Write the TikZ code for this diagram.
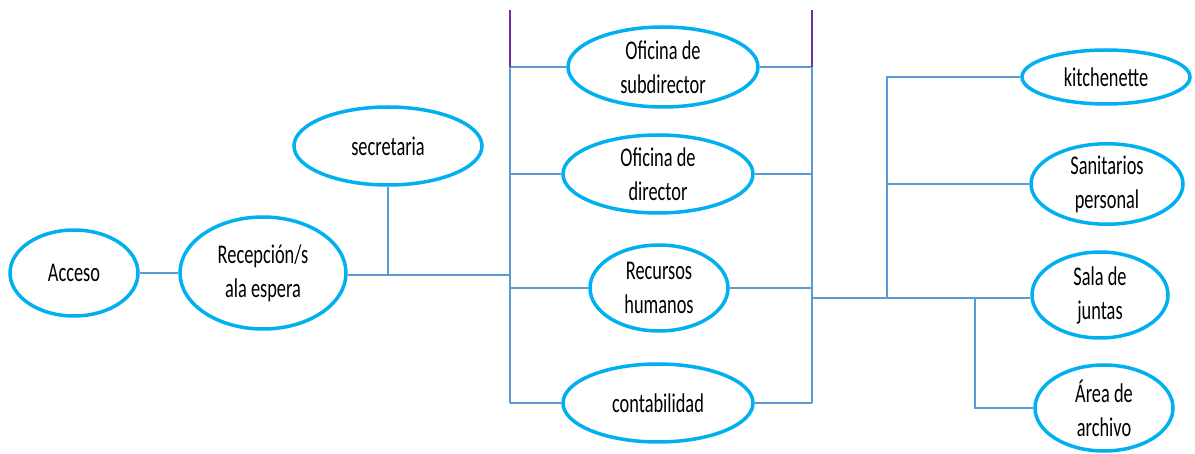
\documentclass[tikz,border=0pt]{standalone}
\usepackage{fontspec}
\setmainfont[FakeStretch=0.68]{Carlito}
\usetikzlibrary{shapes.geometric,backgrounds}
\definecolor{linkblue}{RGB}{91,155,213}
\definecolor{ovalblue}{RGB}{0,176,240}
\definecolor{topviolet}{RGB}{112,48,160}
\tikzset{
  room/.style={ellipse, draw=ovalblue, line width=3.5pt, fill=white, inner sep=0pt,
    align=center, font=\fontsize{27}{34}\selectfont, text=black},
  link/.style={draw=linkblue, line width=1.8pt},
  toplink/.style={draw=topviolet, line width=1.5pt}
}
\begin{document}
\begin{tikzpicture}[x=1pt,y=-1pt]
\useasboundingbox (0,0) rectangle (1195,454);
% nodes
\node[room, minimum width=128pt, minimum height=86pt] (acc) at (74,273) {Acceso};
\node[room, minimum width=166pt, minimum height=112pt] (rec) at (263,273) {Recepción/s\\ala espera};
\node[room, minimum width=188pt, minimum height=78pt] (sec) at (388,146) {secretaria};
\node[room, minimum width=190pt, minimum height=80pt] (sub) at (663,67) {Oficina de\\subdirector};
\node[room, minimum width=190pt, minimum height=78pt] (dir) at (658,174) {Oficina de\\director};
\node[room, minimum width=138pt, minimum height=86pt] (rh) at (659,288) {Recursos\\humanos};
\node[room, minimum width=190pt, minimum height=78pt] (cont) at (658,403) {contabilidad};
\node[room, minimum width=168pt, minimum height=54pt] (kit) at (1106,77) {kitchenette};
\node[room, minimum width=152pt, minimum height=72pt] (san) at (1107,184) {Sanitarios\\personal};
\node[room, minimum width=136pt, minimum height=86pt] (sala) at (1100,295) {Sala de\\juntas};
\node[room, minimum width=138pt, minimum height=86pt] (area) at (1104,408) {Área de\\archivo};
% junction coordinates
\coordinate (L) at (510,275);
\coordinate (Ltop) at (510,67);
\coordinate (Lbot) at (510,403);
\coordinate (Rtop) at (812,67);
\coordinate (Rbot) at (812,403);
\coordinate (Rout) at (812,298);
\coordinate (Ptl) at (510,10);
\coordinate (Ptr) at (812,10);
\coordinate (J1) at (887,298);
\coordinate (J2) at (975,298);
\begin{scope}[on background layer]
\draw[link] (acc) -- (rec);
\draw[link] (rec.east |- L) -- (L);
\draw[link] (sec.south) -- (sec.south |- L);
\draw[link] (Ltop) -- (Lbot);
\draw[link] (Rtop) -- (Rbot);
\draw[link] (Ltop) -- (sub.west);
\draw[link] (Ltop |- dir.west) -- (dir.west);
\draw[link] (Ltop |- rh.west) -- (rh.west);
\draw[link] (Lbot) -- (cont.west);
\draw[link] (sub.east) -- (Rtop);
\draw[link] (dir.east) -- (Rtop |- dir.east);
\draw[link] (rh.east) -- (Rtop |- rh.east);
\draw[link] (cont.east) -- (Rbot);
\draw[toplink] (Ptl) -- (Ltop);
\draw[toplink] (Ptr) -- (Rtop);
\draw[link] (Rout) -- (sala.west |- Rout);
\draw[link] (J1) |- (kit.west);
\draw[link] (J1 |- san.west) -- (san.west);
\draw[link] (J2) |- (area.west);
\end{scope}
\end{tikzpicture}
\end{document}
